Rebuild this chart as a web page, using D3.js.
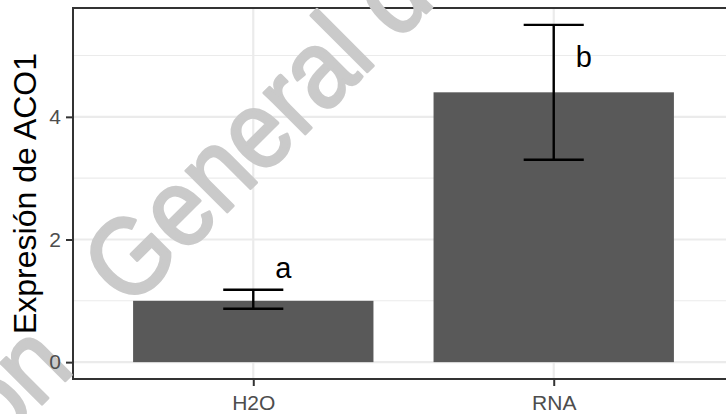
<!DOCTYPE html>
<html>
<head>
<meta charset="utf-8">
<script src="https://cdn.jsdelivr.net/npm/d3@7"></script>
<style>
  html, body { margin: 0; padding: 0; background: #fff; }
  svg { display: block; font-family: "Liberation Sans", Arial, sans-serif; }
</style>
</head>
<body>
<div id="chart"></div>
<script>
// Expresión relativa de ACO1 — barras con barra de error y letras de significancia

const groups = ['H2O', 'RNA'];
const means = [1.0, 4.4];
const errLow = [0.87, 3.3];
const errHigh = [1.18, 5.5];
const sigLetters = ['a', 'b'];
const sigY = [1.55, 4.98];
const yTicks = [0, 2, 4];
const yMinor = [1, 3, 5];
const yTitle = 'Expresión de ACO1';

const W = 726, H = 414;
// panel: right edge falls outside the picture (cropped in the original)
const panel = { left: 73, top: 8, right: 734, bottom: 379 };

const svg = d3.select('#chart').append('svg')
  .attr('width', W).attr('height', H).attr('viewBox', `0 0 ${W} ${H}`);
svg.append('rect').attr('width', W).attr('height', H).attr('fill', '#fff');

// ggplot-like discrete scale: 0.6 step of padding on both sides
const x = d3.scalePoint().domain(groups).range([panel.left, panel.right]).padding(0.6);
const step = x.step();
const barW = step * 0.8, capW = step * 0.2;

// 5% expansion on the data range (0 .. max of the error bars)
const yMax = d3.max(errHigh);
const y = d3.scaleLinear().domain([-0.05 * yMax, yMax * 1.05]).range([panel.bottom, panel.top]);

svg.append('defs').append('clipPath').attr('id', 'panelClip')
  .append('rect').attr('x', panel.left).attr('y', panel.top)
  .attr('width', panel.right - panel.left).attr('height', panel.bottom - panel.top);

const main = svg.append('g').attr('clip-path', 'url(#panelClip)');

// rejilla menor y mayor
main.append('g').selectAll('line').data(yMinor).join('line')
  .attr('x1', panel.left).attr('x2', panel.right)
  .attr('y1', d => y(d)).attr('y2', d => y(d))
  .attr('stroke', '#EBEBEB').attr('stroke-width', 1.1);
main.append('g').selectAll('line').data(yTicks).join('line')
  .attr('x1', panel.left).attr('x2', panel.right)
  .attr('y1', d => y(d)).attr('y2', d => y(d))
  .attr('stroke', '#EBEBEB').attr('stroke-width', 2.2);
main.append('g').selectAll('line').data(groups).join('line')
  .attr('x1', d => x(d)).attr('x2', d => x(d))
  .attr('y1', panel.top).attr('y2', panel.bottom)
  .attr('stroke', '#EBEBEB').attr('stroke-width', 2.2);

// barras
main.append('g').selectAll('rect').data(groups).join('rect')
  .attr('x', d => x(d) - barW / 2).attr('width', barW)
  .attr('y', (d, i) => y(means[i]))
  .attr('height', (d, i) => y(0) - y(means[i]))
  .attr('fill', '#595959');

// barras de error
const eb = main.append('g').attr('stroke', '#000').attr('stroke-width', 2.4).attr('fill', 'none');
groups.forEach((g, i) => {
  const cx = x(g);
  eb.append('line').attr('x1', cx).attr('x2', cx).attr('y1', y(errLow[i])).attr('y2', y(errHigh[i]));
  eb.append('line').attr('x1', cx - capW / 2).attr('x2', cx + capW / 2).attr('y1', y(errLow[i])).attr('y2', y(errLow[i]));
  eb.append('line').attr('x1', cx - capW / 2).attr('x2', cx + capW / 2).attr('y1', y(errHigh[i])).attr('y2', y(errHigh[i]));
});

// letras de significancia
main.append('g').selectAll('text').data(groups).join('text')
  .attr('x', d => x(d) + capW / 2).attr('y', (d, i) => y(sigY[i]))
  .attr('dy', '0.36em').attr('text-anchor', 'middle')
  .attr('font-size', 29).attr('fill', '#000')
  .text((d, i) => sigLetters[i]);

// borde del panel
svg.append('rect').attr('x', panel.left).attr('y', panel.top)
  .attr('width', panel.right - panel.left).attr('height', panel.bottom - panel.top)
  .attr('fill', 'none').attr('stroke', '#333').attr('stroke-width', 2);

// marca de agua gris en diagonal (trazo extra para engrosar); los textos de ejes van encima
const wm = svg.append('g').attr('fill', '#CACACA').attr('font-size', 110)
  .attr('stroke', '#CACACA').attr('stroke-width', 3).attr('stroke-linejoin', 'round')
  .attr('font-family', '"Liberation Sans", Arial, sans-serif');
wm.append('text').attr('transform', 'translate(129,310) rotate(-45) scale(0.9,1)')
  .text('General de Bibliotecas');
wm.append('text').attr('transform', 'translate(76,370) rotate(-45) scale(0.9,1)')
  .attr('text-anchor', 'end').text('Dirección');

// ejes
const yAxis = svg.append('g').attr('transform', `translate(${panel.left},0)`)
  .call(d3.axisLeft(y).tickValues(yTicks).tickFormat(d3.format('d')).tickSize(7).tickPadding(5));
const xAxis = svg.append('g').attr('transform', `translate(0,${panel.bottom})`)
  .call(d3.axisBottom(x).tickSize(7).tickPadding(9));
[yAxis, xAxis].forEach(a => {
  a.select('.domain').remove();
  a.selectAll('.tick line').attr('stroke', '#333').attr('stroke-width', 2);
  a.selectAll('.tick text').attr('fill', '#4D4D4D').attr('font-size', 21)
    .attr('font-family', '"Liberation Sans", Arial, sans-serif');
});

svg.append('text')
  .attr('transform', `translate(36,${(panel.top + panel.bottom) / 2}) rotate(-90)`)
  .attr('text-anchor', 'middle').attr('font-size', 32).attr('fill', '#000')
  .text(yTitle);
</script>
</body>
</html>
